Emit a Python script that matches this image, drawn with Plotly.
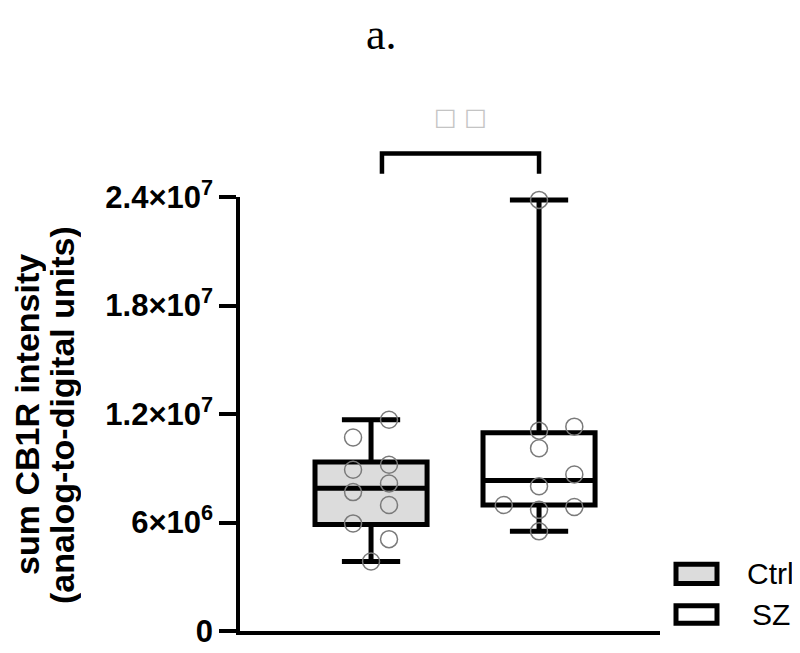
import plotly.graph_objects as go

# ---- data ----
groups = ["Ctrl", "SZ"]
group_pos = [0, 1]

ctrl_values = [11.68e6, 10.70e6, 9.19e6, 8.92e6, 8.16e6, 7.68e6, 6.97e6, 5.95e6, 5.08e6, 3.84e6]
ctrl_jitter = [0.107, -0.107, 0.107, -0.107, 0.107, -0.107, 0.107, -0.107, 0.107, 0.0]
sz_values = [23.84e6, 11.08e6, 11.30e6, 10.11e6, 8.65e6, 8.00e6, 6.97e6, 6.70e6, 6.86e6, 5.51e6]
sz_jitter = [0.0, 0.0, 0.21, 0.0, 0.21, 0.0, -0.21, 0.0, 0.21, 0.0]

# box statistics (min, q1, median, q3, max)
ctrl_stats = [3.84e6, 5.89e6, 7.89e6, 9.35e6, 11.68e6]
sz_stats = [5.51e6, 6.97e6, 8.32e6, 10.97e6, 23.84e6]

tick_vals = [0, 6e6, 1.2e7, 1.8e7, 2.4e7]
tick_text = ["0", "6×10<sup>6</sup>", "1.2×10<sup>7</sup>", "1.8×10<sup>7</sup>", "2.4×10<sup>7</sup>"]

y_title_lines = ["sum CB1R intensity", "(analog-to-digital units)"]
panel_label = "a."
sig_label = "□ □"

fills = ["#dcdcdc", "#ffffff"]

FONT = "Liberation Sans, Arial, sans-serif"

# layout geometry (figure pixels)
M_L, M_R, M_T, M_B = 232, 148, 189, 16
PW = 800 - M_L - M_R
PH = 653 - M_T - M_B


def fx(px):
    """figure-pixel x -> paper x"""
    return (px - M_L) / PW


def fy(py):
    """figure-pixel y -> paper y"""
    return (653 - M_B - py) / PH


fig = go.Figure()

for name, pos, stats, fill in zip(groups, group_pos, [ctrl_stats, sz_stats], fills):
    fig.add_trace(go.Box(
        x=[pos], lowerfence=[stats[0]], q1=[stats[1]], median=[stats[2]],
        q3=[stats[3]], upperfence=[stats[4]], name=name,
        fillcolor=fill, line=dict(color="black", width=5),
        width=0.667, whiskerwidth=0.52, boxpoints=False,
        showlegend=False, hoverinfo="skip",
    ))

for pos, vals, jit in zip(group_pos, [ctrl_values, sz_values], [ctrl_jitter, sz_jitter]):
    fig.add_trace(go.Scatter(
        x=[pos + j for j in jit], y=vals, mode="markers",
        marker=dict(symbol="circle-open", size=17, color="#7a7a7a", line=dict(width=1.5, color="#7a7a7a")),
        showlegend=False, cliponaxis=False, hoverinfo="skip",
    ))

# significance bracket
fig.add_shape(type="path", xref="x", yref="paper",
              path=f"M 0.065,{fy(165)} L 0.065,{fy(144)} L 1.0,{fy(144)} L 1.0,{fy(165)}",
              line=dict(color="black", width=4.5))
fig.add_annotation(x=0.53, y=fy(106), xref="x", yref="paper", text=sig_label, showarrow=False,
                   yanchor="middle",
                   font=dict(size=24, color="#c4c4c4", family="DejaVu Sans"))

# panel label
fig.add_annotation(x=fx(373), y=fy(2), xref="paper", yref="paper", text=panel_label,
                   showarrow=False, yanchor="top", height=32, valign="middle",
                   font=dict(size=44, color="black", family="Liberation Serif, Times New Roman, serif"))

# y-axis title (two rotated lines)
for txt, cx in zip(y_title_lines, [19, 54]):
    fig.add_annotation(x=fx(cx), y=fy(414), xref="paper", yref="paper", text=txt,
                       textangle=-90, showarrow=False, xanchor="center", yanchor="middle",
                       height=38, valign="middle",
                       font=dict(size=34, color="black", family=FONT, weight="bold"))

# manual legend
for (name, fill, top, bot, tx) in [("Ctrl", fills[0], 568, 588, 737), ("SZ", fills[1], 611, 629, 742)]:
    fig.add_shape(type="rect", xref="paper", yref="paper",
                  x0=fx(668), x1=fx(709), y0=fy(bot), y1=fy(top),
                  line=dict(color="black", width=5), fillcolor=fill)
    fig.add_annotation(x=fx(tx), y=fy((top + bot) / 2), xref="paper", yref="paper",
                       text=name, showarrow=False, xanchor="left", yanchor="middle",
                       font=dict(size=30, color="black", family=FONT))

fig.update_layout(
    width=800, height=653,
    margin=dict(l=M_L, r=M_R, t=M_T, b=M_B),
    plot_bgcolor="white", paper_bgcolor="white",
    font=dict(family=FONT, color="black"),
    xaxis=dict(range=[-0.78, 1.72], showline=True, linewidth=3.5, linecolor="black",
               showticklabels=False, ticks="", showgrid=False, zeroline=False),
    yaxis=dict(range=[0, 2.4e7], tickvals=tick_vals, ticktext=tick_text,
               showline=True, linewidth=3.5, linecolor="black",
               ticks="outside", ticklen=17, tickwidth=3.5, tickcolor="black",
               showgrid=False, zeroline=False, ticklabeloverflow="allow",
               tickfont=dict(size=31, family=FONT, weight="bold")),
)

fig.write_html("out.html")
